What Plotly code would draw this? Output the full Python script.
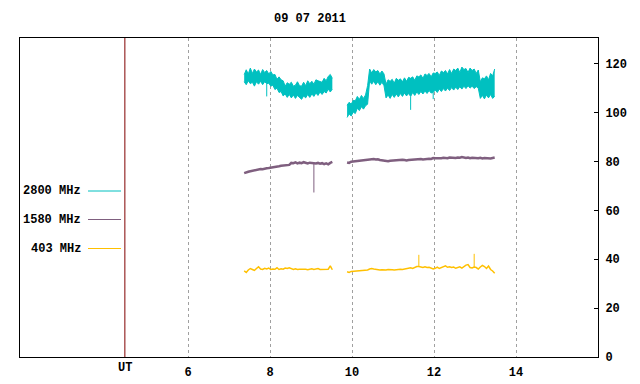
import numpy as np
import plotly.graph_objects as go

# ---------------- data ----------------
TITLE = "09 07 2011"
X_TICKS = [6, 8, 10, 12, 14]
Y_TICKS = [0, 20, 40, 60, 80, 100, 120]
UT_POS = 4.46

# sampling grid of each observing segment (UT hours)
seg1_t = np.round(7.37 + 0.05 * np.arange(44), 2)
seg2_t = np.round(9.88 + 0.05 * np.arange(73), 2)

# 2800 MHz: upper / lower envelope of the noisy trace
f2800_s1_hi = [115.5, 117.5, 115.8, 118.2, 116.0, 117.8, 116.6, 117.4, 115.6, 117.6,
               116.4, 117.2, 115.8, 116.8, 115.4, 115.6, 113.6, 114.6, 113.4, 113.0,
               110.8, 112.2, 111.6, 112.4, 110.8, 111.2, 112.6, 111.0, 110.8, 112.4,
               111.0, 113.0, 111.8, 112.8, 111.6, 113.4, 113.0, 112.8, 112.4, 114.0,
               113.0, 114.8, 115.6, 114.0]
f2800_s1_lo = [112.6, 111.4, 113.0, 111.8, 112.4, 110.8, 112.6, 111.6, 112.8, 111.4,
               112.6, 111.8, 112.0, 110.8, 111.2, 109.4, 110.0, 108.2, 108.6, 106.8,
               107.6, 106.2, 107.4, 106.0, 107.2, 105.8, 107.0, 106.2, 105.4, 106.8,
               106.0, 107.4, 106.2, 107.6, 106.6, 108.0, 107.0, 108.4, 107.4, 108.6,
               108.0, 109.6, 108.4, 109.6]
f2800_s2_hi = [103.0, 104.2, 103.4, 105.0, 104.8, 106.6, 105.4, 107.0, 105.8, 107.2,
               111.0, 117.8, 116.2, 117.6, 116.6, 117.2, 115.8, 117.0, 115.8, 111.6,
               113.4, 112.8, 113.6, 112.0, 114.0, 113.2, 113.8, 112.6, 114.2, 112.8,
               114.4, 114.0, 114.6, 113.2, 115.0, 114.6, 115.4, 114.0, 115.8, 115.2,
               116.0, 114.6, 116.2, 116.0, 116.6, 115.2, 117.0, 116.4, 117.2, 115.8,
               117.6, 116.0, 117.8, 117.2, 118.2, 116.4, 118.6, 117.6, 118.0, 116.4,
               118.2, 117.2, 117.8, 116.0, 117.4, 112.6, 114.2, 113.8, 115.0, 113.4,
               116.0, 115.0, 117.8]
f2800_s2_lo = [98.0, 99.4, 98.6, 100.2, 99.6, 101.8, 100.8, 102.4, 101.4, 102.8,
               103.4, 113.0, 111.6, 112.8, 111.4, 112.6, 111.2, 112.4, 111.0, 106.0,
               107.2, 105.8, 107.4, 106.2, 107.6, 106.4, 107.8, 106.6, 108.0, 106.8,
               107.8, 106.6, 108.2, 107.0, 108.4, 107.4, 108.6, 107.6, 108.8, 107.8,
               109.0, 108.0, 108.2, 109.2, 108.2, 109.6, 108.6, 109.8, 108.8, 110.0,
               109.0, 110.2, 109.2, 110.4, 109.4, 110.6, 109.6, 110.8, 109.8, 111.0,
               110.0, 110.8, 109.8, 110.6, 110.0, 105.8, 107.0, 105.6, 107.2, 106.0,
               107.4, 105.8, 106.6]
f2800_spike_t = [7.92, 11.43, 11.98]
f2800_spike_v = [106.6, 101.1, 105.5]

# 1580 MHz
f1580_s1 = [75.2, 75.6, 75.8, 76.0, 76.2, 76.1, 76.5, 76.6, 76.9, 76.8,
            77.1, 77.2, 77.3, 77.4, 77.6, 77.7, 77.9, 78.0, 78.2, 78.3,
            78.5, 78.4, 78.6, 79.4, 79.3, 79.6, 79.2, 79.5, 79.3, 79.7,
            79.4, 79.2, 79.5, 79.3, 79.4, 79.2, 79.4, 79.1, 79.3, 78.9,
            79.2, 78.8, 79.4, 79.8]
f1580_s2 = [79.6, 79.4, 79.9, 80.0, 80.2, 80.1, 80.4, 80.5, 80.6, 80.8,
            80.7, 80.9, 80.8, 81.0, 80.8, 80.9, 80.6, 80.4, 80.2, 80.0,
            80.1, 80.3, 80.4, 80.5, 80.4, 80.6, 80.5, 80.7, 80.6, 80.4,
            80.6, 80.7, 80.6, 80.8, 80.7, 80.9, 81.0, 80.8, 81.0, 80.9,
            81.1, 81.0, 81.4, 81.3, 81.2, 81.4, 81.3, 81.5, 81.4, 81.3,
            81.6, 81.5, 81.7, 81.4, 81.6, 81.5, 81.8, 81.5, 81.4, 81.6,
            81.3, 81.5, 81.4, 81.6, 81.3, 81.5, 81.2, 81.4, 81.3, 81.5,
            81.2, 81.4, 81.6]
f1580_spike_t = [9.07]
f1580_spike_v = [67.3]

# 403 MHz
f403_s1 = [35.2, 34.6, 35.6, 36.2, 35.8, 35.4, 36.2, 36.9, 36.0, 35.8,
           36.3, 36.0, 36.4, 35.8, 36.0, 35.9, 36.5, 35.8, 36.1, 35.9,
           36.4, 36.2, 36.5, 36.0, 35.8, 36.1, 35.8, 35.9, 36.0, 35.8,
           35.9, 35.7, 35.9, 36.1, 35.8, 35.9, 36.2, 35.8, 35.9, 36.0,
           35.8, 35.9, 37.3, 35.7]
f403_s2 = [34.9, 34.6, 35.0, 35.1, 34.9, 35.2, 35.3, 35.2, 35.3, 35.4,
           35.6, 36.0, 36.2, 36.0, 35.8, 35.7, 35.6, 35.7, 35.5, 35.6,
           35.8, 35.6, 35.7, 35.6, 35.8, 35.7, 35.9, 35.8, 36.0, 35.9,
           36.2, 36.5, 36.2, 36.6, 37.0, 37.0, 36.8, 36.6, 36.9, 36.6,
           36.7, 36.2, 36.0, 36.3, 36.8, 36.2, 36.5, 36.9, 37.3, 36.7,
           36.9, 36.6, 36.8, 36.3, 36.5, 36.9, 36.4, 37.2, 37.6, 37.8,
           36.6, 36.4, 36.8, 36.6, 36.0, 36.8, 37.5, 37.0, 36.2, 37.2,
           35.8, 35.2, 34.3]
f403_spike_t = [11.63, 12.98]
f403_spike_v = [41.8, 42.2]

LEGEND = ["2800 MHz", "1580 MHz", "403 MHz"]
COLORS = ["#00c0c0", "#7f5f7f", "#ffc000"]

# ---------------- figure ----------------
FONT = dict(family="Liberation Mono, DejaVu Sans Mono, monospace", size=12,
            color="black", weight="bold")
W, H = 640, 384
L, R, T, B = 20, 42, 38, 27
PW, PH = W - L - R, H - T - B


def px(x):
    return (x - L) / PW


def py(y):
    return (H - B - y) / PH


fig = go.Figure()

# 2800 MHz band
for t, lo, hi in [(seg1_t, f2800_s1_lo, f2800_s1_hi), (seg2_t, f2800_s2_lo, f2800_s2_hi)]:
    fig.add_trace(go.Scatter(x=t, y=lo, mode="lines", line=dict(color=COLORS[0], width=1),
                             showlegend=False, hoverinfo="skip"))
    fig.add_trace(go.Scatter(x=t, y=hi, mode="lines", line=dict(color=COLORS[0], width=1),
                             fill="tonexty", fillcolor=COLORS[0], showlegend=False,
                             hoverinfo="skip"))


def spikes(ts, vs, t_all, base_all, color, width):
    xs, ys = [], []
    for t, v in zip(ts, vs):
        i = int(np.argmin(np.abs(t_all - t)))
        xs += [t_all[i], t_all[i], None]
        ys += [base_all[i], v, None]
    fig.add_trace(go.Scatter(x=xs, y=ys, mode="lines", line=dict(color=color, width=width),
                             showlegend=False, hoverinfo="skip"))


all_t = np.concatenate([seg1_t, seg2_t])
spikes(f2800_spike_t, f2800_spike_v, all_t, np.array(f2800_s1_lo + f2800_s2_lo), COLORS[0], 1)

for s1, s2, c, w in [(f1580_s1, f1580_s2, COLORS[1], 2.5), (f403_s1, f403_s2, COLORS[2], 1.5)]:
    for t, v in [(seg1_t, s1), (seg2_t, s2)]:
        fig.add_trace(go.Scatter(x=t, y=v, mode="lines", line=dict(color=c, width=w),
                                 showlegend=False, hoverinfo="skip"))

spikes(f1580_spike_t, f1580_spike_v, all_t, np.array(f1580_s1 + f1580_s2), COLORS[1], 1)
spikes(f403_spike_t, f403_spike_v, all_t, np.array(f403_s1 + f403_s2), COLORS[2], 1)

shapes = [dict(type="line", xref="x", yref="paper", x0=UT_POS, x1=UT_POS, y0=0, y1=1,
               line=dict(color="#800000", width=1))]
annotations = [
    dict(text=TITLE, xref="paper", yref="paper", x=px(310), y=py(19), showarrow=False,
         xanchor="center", yanchor="middle", font=FONT),
    dict(text="UT", xref="x", yref="paper", x=UT_POS, y=py(368), showarrow=False,
         xanchor="center", yanchor="middle", font=FONT),
]
leg_y = [191, 219.5, 248.5]
for lab, c, yy in zip(LEGEND, COLORS, leg_y):
    annotations.append(dict(text=lab, xref="paper", yref="paper", x=px(83), y=py(yy),
                            showarrow=False, xanchor="right", yanchor="middle", font=FONT))
    shapes.append(dict(type="line", xref="paper", yref="paper", x0=px(88), x1=px(121),
                       y0=py(yy), y1=py(yy), line=dict(color=c, width=1)))

fig.update_layout(
    width=W, height=H, margin=dict(l=L, r=R, t=T, b=B),
    paper_bgcolor="white", plot_bgcolor="white",
    font=FONT, showlegend=False, shapes=shapes, annotations=annotations,
    xaxis=dict(range=[1.902, 16.0], tickvals=X_TICKS, ticktext=[str(v) for v in X_TICKS],
               showgrid=True, gridcolor="#a0a0a0", griddash="3px,3px", gridwidth=1,
               ticks="", showline=True, mirror=True, linecolor="black", linewidth=1,
               zeroline=False, tickfont=FONT, automargin=False, ticklabelstandoff=4),
    yaxis=dict(range=[0, 130.5], tickvals=Y_TICKS, side="right", showgrid=False,
               ticks="inside", ticklen=4, tickcolor="black", showline=True, mirror=True,
               linecolor="black", linewidth=1, zeroline=False, tickfont=FONT,
               automargin=False, ticklabelstandoff=4),
)

fig.write_html("out.html", post_script="document.body.style.margin='0px';",
               config={"displayModeBar": False})
